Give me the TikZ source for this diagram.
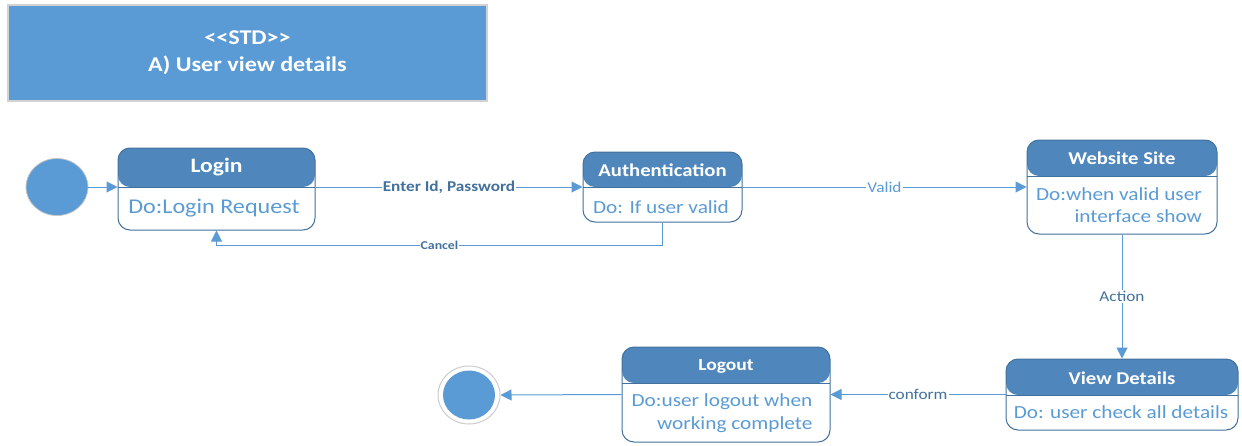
\documentclass[tikz,border=0pt]{standalone}
\usepackage{fontspec}
\setmainfont[FakeStretch=1.15]{Carlito}
\usetikzlibrary{arrows.meta,shapes.geometric}
\definecolor{stdblue}{RGB}{91,155,213}
\definecolor{headblue}{RGB}{79,135,189}
\definecolor{edgeblue}{RGB}{65,113,156}

\begin{document}
\begin{tikzpicture}[x=1pt,y=-1pt]

\tikzset{statebox/.style={draw=edgeblue,fill=white,line width=1pt,rounded corners=12pt,inner sep=0pt,
  path picture={\fill[headblue] (path picture bounding box.north west) rectangle ([yshift=-#1]path picture bounding box.north east);
  \draw[edgeblue,line width=1pt] ([yshift=-#1]path picture bounding box.north west) -- ([yshift=-#1]path picture bounding box.north east);}},}
\tikzset{headtext/.style={text=white,font=\fontsize{18}{20}\selectfont\bfseries},}
\tikzset{dotext/.style={text=stdblue,font=\fontsize{18.5}{22.5}\selectfont,align=right,inner sep=0pt},}
\tikzset{flow/.style={draw=stdblue,line width=1pt,-{Triangle[length=11pt,width=11pt]}},}
\tikzset{flowlabel/.style={fill=white,inner sep=1pt,font=\fontsize{15}{15}\selectfont},}
\tikzset{dot/.style={ellipse,fill=stdblue,draw=gray!45,line width=0.8pt},}

\useasboundingbox (0,0) rectangle (1242,445);

%TITLE
\node [fill=stdblue,draw=gray!35,line width=1.5pt,minimum width=479pt,minimum height=96pt,
  text=white,align=center,font=\fontsize{21}{27}\selectfont\bfseries] (std) at (247.5,53)
  {<\kern0pt<STD>\kern0pt>\\A) User view details};

%START
\node [dot,minimum width=62pt,minimum height=57pt] (start) at (57,187) {};

%LOGIN
\node [statebox=39pt,minimum width=197pt,minimum height=82pt] (login) at (216.5,189) {};
\node [headtext,font=\fontsize{20.5}{22}\selectfont\bfseries] (logint) at (216.5,167.5) {Login};
\node [dotext,font=\fontsize{21}{24}\selectfont] (logind) at (214,208) {Do:Login Request};

%AUTHENTICATION
\node [statebox=35pt,minimum width=159pt,minimum height=70pt] (auth) at (662.5,187) {};
\node [headtext] (autht) at (662.5,170) {Authentication};
\node [dotext] (authd) at (661,207) {Do: If user valid};

%WEBSITE
\node [statebox=36pt,minimum width=190pt,minimum height=94pt] (web) at (1122,187) {};
\node [headtext] (webt) at (1122,158) {Website Site};
\node [dotext] (webd) at (1119,205) {Do:when valid user\\interface show};

%VIEW DETAILS
\node [statebox=36pt,minimum width=232pt,minimum height=71pt] (view) at (1122,394.5) {};
\node [headtext] (viewt) at (1122,378) {View Details};
\node [dotext] (viewd) at (1121,412) {Do: user check all details};

%LOGOUT
\node [statebox=36pt,minimum width=208pt,minimum height=95pt] (logout) at (726,394.5) {};
\node [headtext,font=\fontsize{17}{20}\selectfont\bfseries] (logoutt) at (726,366) {Logout};
\node [dotext] (logoutd) at (722,413) {Do:user logout when\\working complete};

%END
\node [ellipse,draw=gray!40,fill=white,line width=1pt,minimum width=62pt,minimum height=58pt] (final) at (469,395) {};
\node [dot,draw=none,minimum width=52pt,minimum height=49pt] (finaldot) at (final) {};

%ARROWS
\draw[flow] (start) -- (start -| login.west);
\draw[flow] (login.east |- auth.west) -- node[flowlabel,text=edgeblue,font=\fontsize{15}{15}\selectfont\bfseries] {Enter Id, Password} (auth.west);
\draw[flow] (auth.south) -- ++(0,23) -| node[pos=0.25,flowlabel,text=edgeblue,font=\fontsize{12}{12}\selectfont\bfseries] {Cancel} (login.south);
\draw[flow] (auth.east) -- node[flowlabel,text=stdblue] {Valid} (web.west);
\draw[flow] (web.south) -- node[flowlabel,text=edgeblue] {Action} (view.north);
\draw[flow] (view.west) -- node[flowlabel,text=edgeblue] {conform} (logout.east |- view.west);
\draw[flow] (logout.west) -- (final.east);

\end{tikzpicture}
\end{document}
